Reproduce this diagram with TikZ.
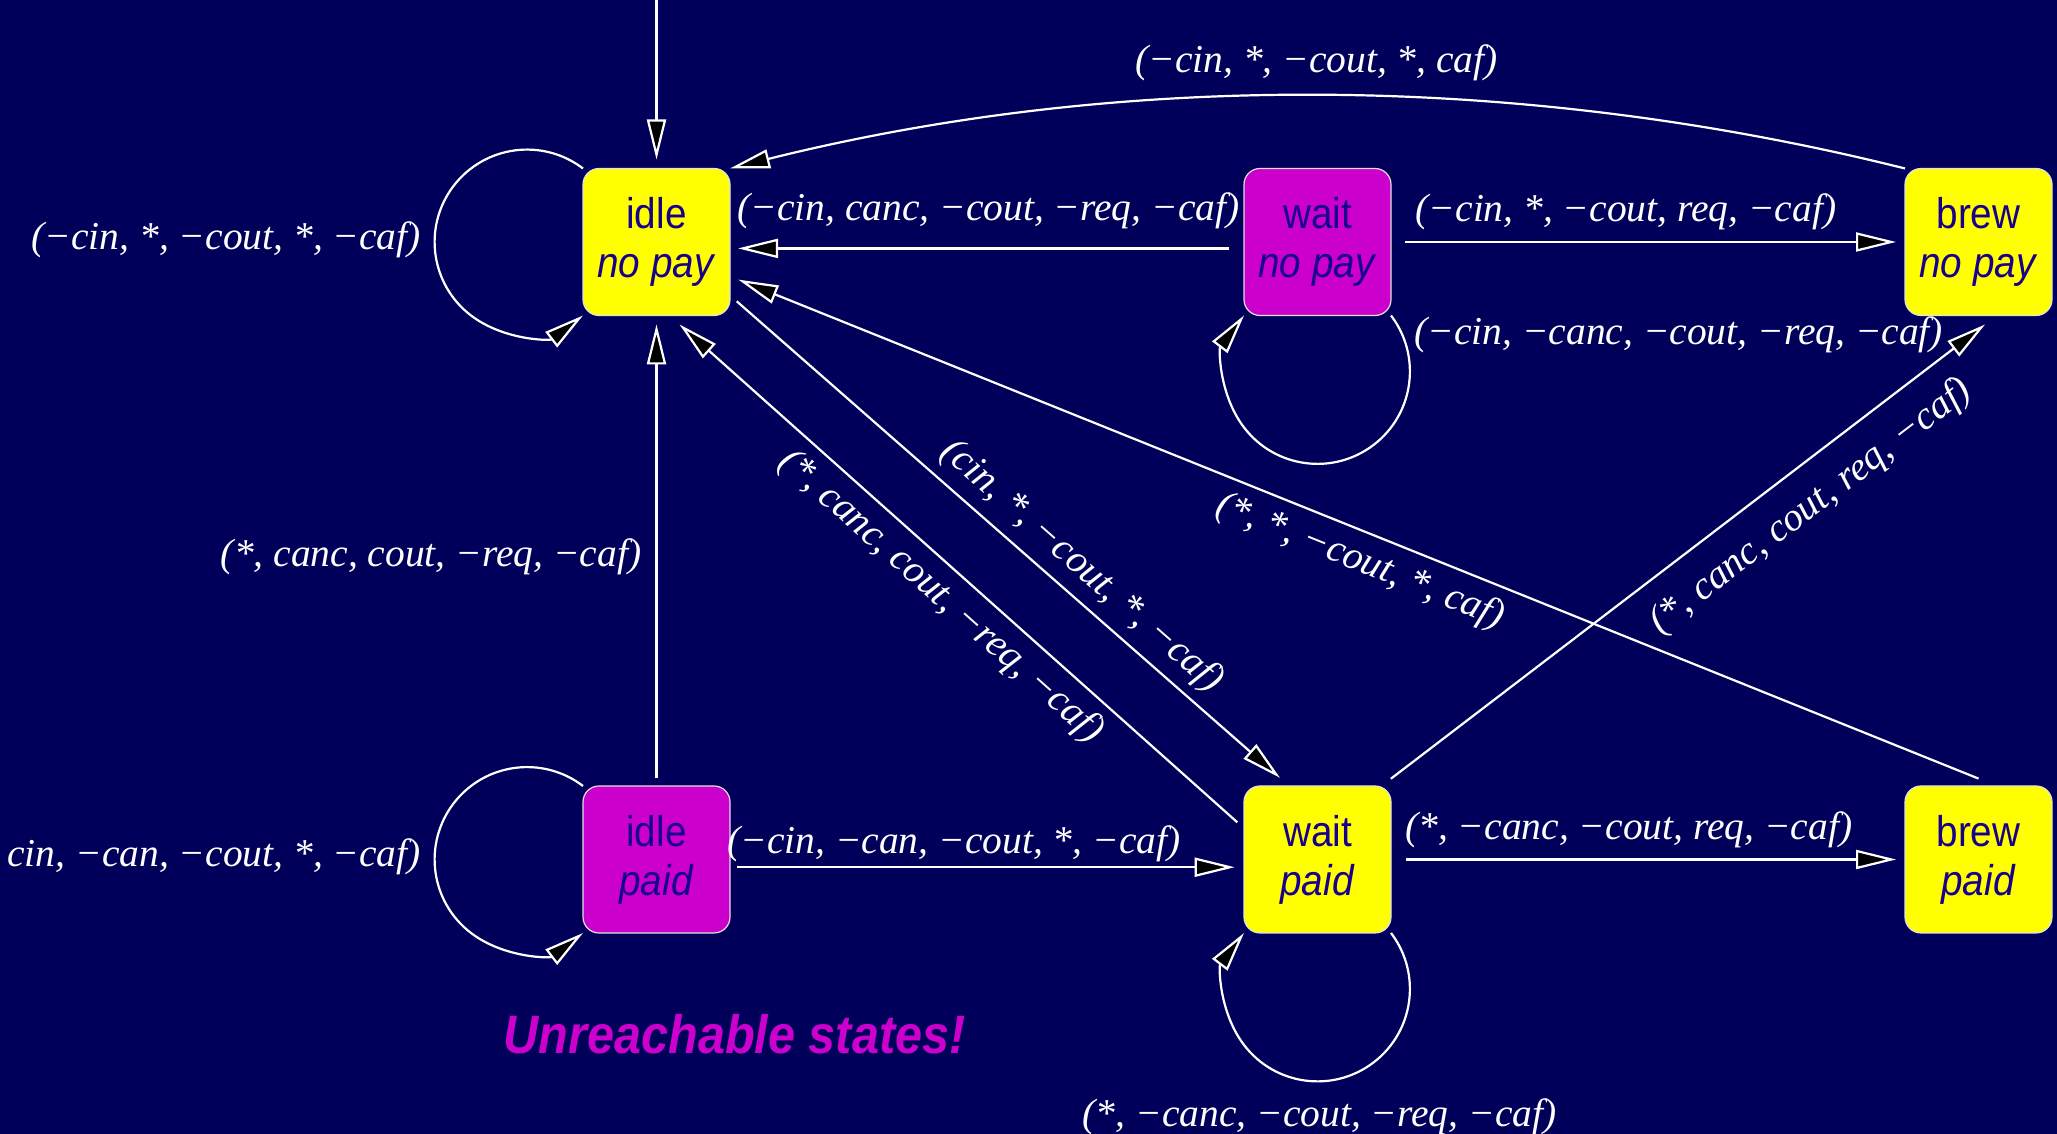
\documentclass[tikz,border=0pt]{standalone}
\usepackage{fontspec}
\setmainfont{Liberation Serif}
\newfontfamily\boxfont[FakeStretch=0.9]{Liberation Sans}
\usetikzlibrary{arrows.meta}
\definecolor{bgblue}{RGB}{0,0,90}
\definecolor{stateyellow}{RGB}{255,255,0}
\definecolor{statemagenta}{RGB}{204,0,204}
\definecolor{statetext}{RGB}{24,0,140}
\definecolor{stateedge}{RGB}{225,225,225}

\begin{document}
\begin{tikzpicture}[x=1pt,y=1pt,
  state/.style={draw=stateedge, line width=1.2pt, rounded corners=16pt,
    minimum width=147pt, minimum height=147pt, inner sep=0pt, outer sep=0pt,
    align=center, text=statetext, font=\boxfont\fontsize{43}{49}\selectfont},
  reach/.style={state, fill=stateyellow},
  unreach/.style={state, fill=statemagenta},
  trans/.style={draw=white, line width=2.2pt,
    -{Triangle[length=40pt,width=19pt,fill=black]}},
  lbl/.style={text=white, inner sep=0pt, font=\fontsize{39.5}{44}\selectfont\itshape},
]
\useasboundingbox (0,0) rectangle (2057,1134);
\fill[bgblue] (0,0) rectangle (2057,1134);

% states
\node[reach]   (inp) at (656.5,892)  {idle\\\textit{no pay}};
\node[unreach] (wnp) at (1317.5,892) {wait\\\textit{no pay}};
\node[reach]   (bnp) at (1978.5,892) {brew\\\textit{no pay}};
\node[unreach] (ip)  at (656.5,274.5)  {idle\\\textit{paid}};
\node[reach]   (wp)  at (1317.5,274.5) {wait\\\textit{paid}};
\node[reach]   (bp)  at (1978.5,274.5) {brew\\\textit{paid}};

% transitions
\coordinate (init) at (656.5,1140);
\draw[trans, shorten >=9pt] (init) -- (inp.north);
\draw[trans] (inp.north west) arc[start angle=52.7, end angle=307.3, radius=92.4];
\draw[trans] (bnp.north west) .. controls +(166:400) and +(14:400) .. (inp.north east);
\draw[trans, shorten <=15pt, shorten >=8pt] (wnp.185) -- (inp.-5);
\draw[trans, shorten <=14pt, shorten >=9pt] (wnp.east) -- (bnp.west);
\draw[trans] (wnp.south east) arc[start angle=37.3, end angle=-217.3, radius=92.4];
\draw[trans, shorten <=7.7pt, shorten >=9pt] (ip.north) -- (inp.south);
\draw[trans, shorten <=9pt, shorten >=13.5pt] (wp.157) -- (inp.-80);
\draw[trans, shorten <=9pt, shorten >=12.4pt] (inp.-36) -- (wp.111);
\draw[trans, shorten >=9pt] ([yshift=7.4pt]bp.north) -- (inp.-25);
\draw[trans, shorten <=11.9pt, shorten >=14.8pt] (wp.49) -- (bnp.-76);
\draw[trans] (ip.north west) arc[start angle=52.7, end angle=307.3, radius=92.4];
\draw[trans, shorten <=6.7pt, shorten >=9.3pt] (ip.-6) -- (wp.186);
\draw[trans, shorten <=15pt, shorten >=9pt] (wp.east) -- (bp.west);
\draw[trans] (wp.south east) arc[start angle=37.3, end angle=-217.3, radius=92.4];

% transition labels
\node[lbl, anchor=base] (l1) at (1316.5,1061) {(−cin, *, −cout, *, caf)};
\node[lbl, anchor=base east] (l2) at (421,884) {(−cin, *, −cout, *, −caf)};
\node[lbl, anchor=base west] (l3) at (737,913) {(−cin, canc, −cout, −req, −caf)};
\node[lbl, anchor=base] (l4) at (1626,912) {(−cin, *, −cout, req, −caf)};
\node[lbl, anchor=base west] (l5) at (1414,789) {(−cin, −canc, −cout, −req, −caf)};
\node[lbl, anchor=base east] (l6) at (641.5,567) {(*, canc, cout, −req, −caf)};
\node[lbl, anchor=base east] (l7) at (421,267) {cin, −can, −cout, *, −caf)};
\node[lbl, anchor=base west] (l8) at (727,280.7) {(−cin, −can, −cout, *, −caf)};
\node[lbl, anchor=base west] (l9) at (1405,294) {(*, −canc, −cout, req, −caf)};
\node[lbl, anchor=base west] (l10) at (1082.5,7.3) {(*, −canc, −cout, −req, −caf)};
\node[lbl, rotate=-41.7] (l11) at (941,537.3) {(*, canc, cout, −req, −caf)};
\node[lbl, rotate=-41.3] (l12) at (1081.8,567.3) {(cin, *, −cout, *, −caf)};
\node[lbl, rotate=-22] (l13) at (1360.2,572.3) {(*, *, −cout, *, caf)};
\node[lbl, rotate=37.4] (l14) at (1811,627.2) {(*, canc, cout, req, −caf)};

% remark
\node[text=statemagenta, inner sep=0pt, anchor=base,
  font=\boxfont\fontsize{54}{60}\selectfont\bfseries\itshape] (note) at (734.7,80.5) {Unreachable states!};
\end{tikzpicture}
\end{document}
